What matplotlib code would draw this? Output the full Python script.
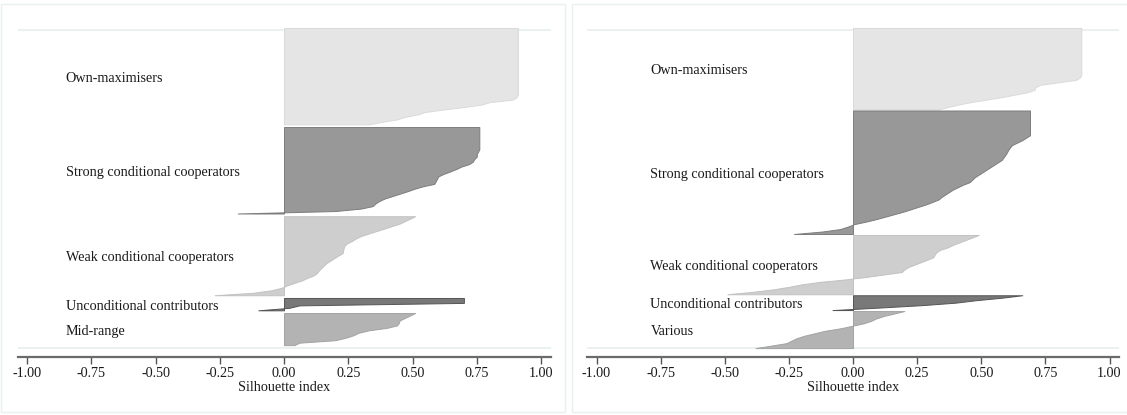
import numpy as np
import matplotlib
matplotlib.use("Agg")
import matplotlib.pyplot as plt
from matplotlib.patches import Rectangle
from matplotlib.ticker import FormatStrFormatter

plt.rcParams['font.family'] = ['Liberation Serif', 'DejaVu Serif']
plt.rcParams['axes.unicode_minus'] = False

left_labels = ["Own-maximisers", "Strong conditional cooperators", "Weak conditional cooperators",
               "Unconditional contributors", "Mid-range"]
left_own = [0.91, 0.91, 0.91, 0.91, 0.91, 0.91, 0.91, 0.91, 0.91, 0.91,
            0.91, 0.91, 0.91, 0.91, 0.91, 0.91, 0.91, 0.91, 0.91, 0.91,
            0.91, 0.91, 0.91, 0.91, 0.91, 0.91, 0.91, 0.91,
            0.905, 0.89, 0.80, 0.77, 0.70, 0.62, 0.55, 0.52, 0.47, 0.44, 0.38, 0.33]
left_strong = [0.76, 0.76, 0.76, 0.76, 0.76, 0.76, 0.76, 0.76, 0.76, 0.76,
               0.755, 0.75, 0.75, 0.74, 0.735, 0.72, 0.69, 0.67, 0.646, 0.62,
               0.60, 0.595, 0.59, 0.585, 0.54, 0.507, 0.48, 0.45, 0.42, 0.39,
               0.37, 0.355, 0.345, 0.30, 0.20, -0.18]
left_weak = [0.51, 0.49, 0.47, 0.45, 0.42, 0.39, 0.36, 0.33, 0.30, 0.28,
             0.265, 0.245, 0.235, 0.232, 0.23, 0.228, 0.21, 0.195, 0.18, 0.165,
             0.155, 0.145, 0.135, 0.128, 0.115, 0.09, 0.07, 0.04, 0.012, -0.01,
             -0.05, -0.12, -0.27]
left_uncond = [0.70, 0.70, 0.70, 0.06, 0.02, -0.10]
left_mid = [0.51, 0.49, 0.47, 0.45, 0.447, 0.44, 0.40, 0.33, 0.29, 0.27,
            0.24, 0.20, 0.06, 0.04]

right_labels = ["Own-maximisers", "Strong conditional cooperators", "Weak conditional cooperators",
                "Unconditional contributors", "Various"]
right_own = [0.89, 0.89, 0.89, 0.89, 0.89, 0.89, 0.89, 0.89, 0.89, 0.89,
             0.89, 0.89, 0.89, 0.89, 0.89, 0.89, 0.89, 0.89, 0.89, 0.89,
             0.885, 0.87, 0.80, 0.73, 0.71, 0.708, 0.68, 0.63, 0.58, 0.52,
             0.46, 0.41, 0.37, 0.33]
right_strong = [0.69, 0.69, 0.69, 0.69, 0.69, 0.69, 0.69, 0.69, 0.69, 0.69,
                0.69, 0.675, 0.66, 0.64, 0.62, 0.612, 0.605, 0.60, 0.594, 0.587,
                0.58, 0.565, 0.55, 0.535, 0.52, 0.505, 0.49, 0.475, 0.465, 0.455,
                0.43, 0.41, 0.39, 0.375, 0.36, 0.345, 0.334, 0.31, 0.285, 0.255,
                0.225, 0.195, 0.16, 0.125, 0.09, 0.05, 0.005, -0.02, -0.05, -0.12,
                -0.23]
right_weak = [0.49, 0.465, 0.44, 0.415, 0.39, 0.37, 0.34, 0.325, 0.318, 0.313,
              0.29, 0.265, 0.24, 0.215, 0.20, 0.19, 0.12, 0.05, -0.03, -0.13,
              -0.20, -0.25, -0.31, -0.39, -0.49]
right_uncond = [0.66, 0.58, 0.48, 0.40, 0.27, 0.10, -0.08]
right_various = [0.20, 0.16, 0.12, 0.09, 0.07, 0.04, -0.005, -0.05, -0.11, -0.15,
                 -0.19, -0.22, -0.24, -0.26, -0.32, -0.38]

fills = ['#e5e5e5', '#989898', '#cecece', '#787878', '#b3b3b3']
edges = ['#dadada', '#7c7c7c', '#c2c2c2', '#555555', '#a3a3a3']

W, H = 1127, 415
FS = 10.2


def draw_panel(ax, clusters, labels, label_x, gap):
    pos = 0.0
    for vals, lab, fc, ec in zip(clusters, labels, fills, edges):
        y = pos + np.arange(len(vals))
        ax.fill_betweenx(y, 0, vals, facecolor=fc, edgecolor=ec, linewidth=0.7)
        ax.text(label_x, (y[0] + y[-1]) / 2 + 0.8, lab, fontsize=FS, va='center', ha='left', color='#1a1a1a')
        pos = y[-1] + gap
    # faint plot-region lines
    ax.axhline(0.8, color='#e6efef', lw=1.2, zorder=0)
    ax.axhline(129.6, color='#e6efef', lw=1.2, zorder=0)
    ax.set_ylim(133.2, 0)
    ax.set_yticks([])
    for s in ['top', 'left', 'right']:
        ax.spines[s].set_visible(False)
    ax.spines['bottom'].set_color('#6a6a6a')
    ax.spines['bottom'].set_linewidth(1.6)
    ax.set_xticks(np.arange(-1, 1.01, 0.25))
    ax.xaxis.set_major_formatter(FormatStrFormatter('%.2f'))
    ax.tick_params(axis='x', direction='out', length=5, width=1, color='#555555',
                   labelsize=FS, labelcolor='#1a1a1a', pad=2)
    ax.set_xlabel('Silhouette index', fontsize=FS, color='#1a1a1a', labelpad=1)


fig = plt.figure(figsize=(W / 100, H / 100), dpi=100)

# faint outer frames of the two graphs
fig.add_artist(Rectangle((1 / W, 3 / H), 564 / W, 408 / H, transform=fig.transFigure,
                         fill=False, edgecolor='#e9f0f0', lw=1))
fig.add_artist(Rectangle((572 / W, 3 / H), 560 / W, 408 / H, transform=fig.transFigure,
                         fill=False, edgecolor='#e9f0f0', lw=1))

ax1 = fig.add_axes([18 / W, 1 - 357 / H, 533 / W, 329 / H])
ax1.set_xlim((18 - 284) / 257, (551 - 284) / 257)
draw_panel(ax1, [left_own, left_strong, left_weak, left_uncond, left_mid], left_labels, -0.85, 1.1)

ax2 = fig.add_axes([587 / W, 1 - 357 / H, 532 / W, 329 / H])
ax2.set_xlim((587 - 853) / 256.5, (1119 - 853) / 256.5)
draw_panel(ax2, [right_own, right_strong, right_weak, right_uncond, right_various], right_labels, -0.79, 0.4)

fig.savefig('out.png', dpi=100)
